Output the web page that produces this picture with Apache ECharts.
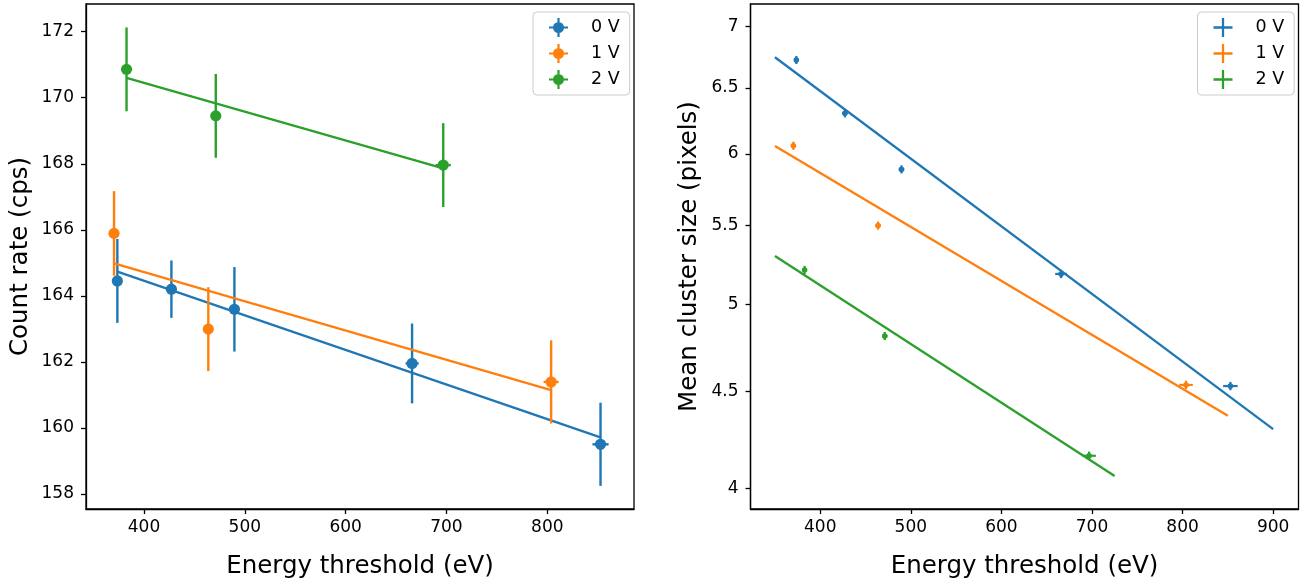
<!DOCTYPE html>
<html>
<head>
<meta charset="utf-8">
<script src="https://cdn.jsdelivr.net/npm/echarts@6.0.0/dist/echarts.min.js"></script>
<style>
html,body{margin:0;padding:0;background:#fff;}
#chart{width:1305px;height:587px;}
</style>
</head>
<body>
<div id="chart"></div>
<script>
// ---------- Data ----------
const seriesNames = ['0 V', '1 V', '2 V'];
const colors = ['#1f77b4', '#ff7f0e', '#2ca02c'];

// Energy thresholds (eV) and their uncertainties
const energy0 = [373.6, 427.2, 489.7, 665.9, 852.8];
const energyErr0 = [2, 3, 3, 6.5, 8];
const energy1 = [370.3, 463.8, 803.8];
const energyErr1 = [2, 3, 7.5];
const energy2 = [382.7, 471.2, 696.8];
const energyErr2 = [2, 3, 7.5];

// Left panel: count rate (cps)
const rate0 = [164.45, 164.20, 163.59, 161.95, 159.50];
const rateErr0 = [1.27, 0.87, 1.28, 1.21, 1.26];
const rate1 = [165.89, 162.99, 161.39];
const rateErr1 = [1.28, 1.27, 1.26];
const rate2 = [170.86, 169.45, 167.96];
const rateErr2 = [1.27, 1.27, 1.27];

// Left panel: linear fits (endpoints)
const rateFitX0 = [373.6, 852.8];
const rateFitY0 = [164.73, 159.71];
const rateFitX1 = [370.3, 803.8];
const rateFitY1 = [164.98, 161.14];
const rateFitX2 = [382.7, 696.8];
const rateFitY2 = [170.60, 167.86];

// Right panel: mean cluster size (pixels)
const size0 = [6.723, 6.302, 5.888, 5.187, 4.528];
const sizeErr0 = [0.033, 0.031, 0.029, 0.026, 0.023];
const size1 = [6.059, 5.500, 4.534];
const sizeErr1 = [0.030, 0.027, 0.023];
const size2 = [5.212, 4.811, 4.161];
const sizeErr2 = [0.026, 0.024, 0.021];

// Right panel: exponential fits (endpoints)
const sizeFitX0 = [350, 900];
const sizeFitY0 = [6.745, 4.298];
const sizeFitX1 = [350, 850];
const sizeFitY1 = [6.058, 4.368];
const sizeFitX2 = [350, 725];
const sizeFitY2 = [5.301, 4.060];

// Tick labels
const rateTicks = [158, 160, 162, 164, 166, 168, 170, 172];
const energyTicksLeft = [400, 500, 600, 700, 800];
const sizeTicks = [4, 4.5, 5, 5.5, 6, 6.5, 7];
const energyTicksRight = [400, 500, 600, 700, 800, 900];

// ---------- Helpers ----------
function zip4(a, b, c, d) { return a.map((v, i) => [v, b[i], c[i], d[i]]); }
function zip2(a, b) { return a.map((v, i) => [v, b[i]]); }

function errRender(radius, lw) {
  return function (params, api) {
    const x = api.value(0), y = api.value(1), xe = api.value(2), ye = api.value(3);
    const c = api.coord([x, y]);
    const t = api.coord([x, y + ye]);
    const b = api.coord([x, y - ye]);
    const l = api.coord([x - xe, y]);
    const r = api.coord([x + xe, y]);
    const color = api.visual('color');
    return {
      type: 'group',
      children: [
        { type: 'line', shape: { x1: t[0], y1: t[1], x2: b[0], y2: b[1] }, style: { stroke: color, lineWidth: lw } },
        { type: 'line', shape: { x1: l[0], y1: l[1], x2: r[0], y2: r[1] }, style: { stroke: color, lineWidth: lw } },
        { type: 'circle', shape: { cx: c[0], cy: c[1], r: radius }, style: { fill: color } }
      ]
    };
  };
}

const FONT = 'DejaVu Sans';
const leftData = [
  { e: energy0, ee: energyErr0, v: rate0, ve: rateErr0, fx: rateFitX0, fy: rateFitY0 },
  { e: energy1, ee: energyErr1, v: rate1, ve: rateErr1, fx: rateFitX1, fy: rateFitY1 },
  { e: energy2, ee: energyErr2, v: rate2, ve: rateErr2, fx: rateFitX2, fy: rateFitY2 }
];
const rightData = [
  { e: energy0, ee: energyErr0, v: size0, ve: sizeErr0, fx: sizeFitX0, fy: sizeFitY0 },
  { e: energy1, ee: energyErr1, v: size1, ve: sizeErr1, fx: sizeFitX1, fy: sizeFitY1 },
  { e: energy2, ee: energyErr2, v: size2, ve: sizeErr2, fx: sizeFitX2, fy: sizeFitY2 }
];

const series = [];
leftData.forEach((d, i) => {
  series.push({
    name: seriesNames[i], type: 'custom', xAxisIndex: 0, yAxisIndex: 0,
    renderItem: errRender(5.6, 2.4), data: zip4(d.e, d.v, d.ee, d.ve),
    encode: { x: 0, y: 1 }, itemStyle: { color: colors[i] }, z: 2 + i
  });
  series.push({
    name: seriesNames[i] + ' fit', type: 'line', xAxisIndex: 0, yAxisIndex: 0,
    data: zip2(d.fx, d.fy), showSymbol: false, symbol: 'none',
    lineStyle: { color: colors[i], width: 2.3 }, z: 2 + i
  });
});
rightData.forEach((d, i) => {
  series.push({
    name: seriesNames[i], type: 'custom', xAxisIndex: 1, yAxisIndex: 1,
    renderItem: errRender(2.8, 2.2), data: zip4(d.e, d.v, d.ee, d.ve),
    encode: { x: 0, y: 1 }, itemStyle: { color: colors[i] }, z: 2 + i
  });
  series.push({
    name: seriesNames[i] + ' exp', type: 'line', xAxisIndex: 1, yAxisIndex: 1,
    data: zip2(d.fx, d.fy), showSymbol: false, symbol: 'none',
    lineStyle: { color: colors[i], width: 2.3 }, z: 2 + i
  });
});

const iconDot = 'path://M0,-1.1A1.1,1.1,0,1,1,0,1.1A1.1,1.1,0,1,1,0,-1.1Z M-0.22,-1.9H0.22V1.9H-0.22Z M-1.9,-0.22H1.9V0.22H-1.9Z';
const iconPlus = 'path://M-0.12,-1H0.12V1H-0.12Z M-1,-0.12H1V0.12H-1Z';

function makeLegend(left, icon) {
  return {
    orient: 'vertical', left: left, top: 12,
    padding: [6, 10, 6, 16], itemWidth: 19, itemHeight: 19, itemGap: 7,
    backgroundColor: 'rgba(255,255,255,0.8)', borderColor: '#cccccc', borderWidth: 1, borderRadius: 4,
    selectedMode: false,
    textStyle: { fontFamily: FONT, fontSize: 17.5, color: '#000', padding: [0, 0, 0, 18] },
    data: seriesNames.map((n, i) => ({ name: n, icon: icon, itemStyle: { color: colors[i] } }))
  };
}

function valueAxisBase() {
  return {
    axisLine: { show: true, onZero: false, lineStyle: { color: '#000', width: 1.3 } },
    axisTick: { show: true, length: 5, lineStyle: { color: '#000', width: 1.3 } },
    axisLabel: { color: '#000', fontFamily: FONT, fontSize: 17 },
    splitLine: { show: false },
    nameTextStyle: { color: '#000', fontFamily: FONT, fontSize: 24.5 },
    nameLocation: 'middle'
  };
}

const xAxisLeft = Object.assign(valueAxisBase(), {
  type: 'value', gridIndex: 0, min: 342.5, max: 886,
  name: 'Energy threshold (eV)', nameGap: 45
});
xAxisLeft.axisLabel = Object.assign({}, xAxisLeft.axisLabel, { margin: 10, customValues: energyTicksLeft });
xAxisLeft.axisTick = Object.assign({}, xAxisLeft.axisTick, { customValues: energyTicksLeft });

const xAxisRight = Object.assign(valueAxisBase(), {
  type: 'value', gridIndex: 1, min: 323, max: 928,
  name: 'Energy threshold (eV)', nameGap: 45
});
xAxisRight.axisLabel = Object.assign({}, xAxisRight.axisLabel, { margin: 10, customValues: energyTicksRight });
xAxisRight.axisTick = Object.assign({}, xAxisRight.axisTick, { customValues: energyTicksRight });

const yAxisLeft = Object.assign(valueAxisBase(), {
  type: 'value', gridIndex: 0, min: 157.54, max: 172.84,
  name: 'Count rate (cps)', nameGap: 53
});
yAxisLeft.axisLabel = Object.assign({}, yAxisLeft.axisLabel, { margin: 12, customValues: rateTicks });
yAxisLeft.axisTick = Object.assign({}, yAxisLeft.axisTick, { customValues: rateTicks });

const yAxisRight = Object.assign(valueAxisBase(), {
  type: 'log', gridIndex: 1, min: 3.901, max: 7.195, logBase: 10,
  name: 'Mean cluster size (pixels)', nameGap: 48
});
yAxisRight.axisLabel = Object.assign({}, yAxisRight.axisLabel, { margin: 12, customValues: sizeTicks, formatter: v => String(+(+v).toFixed(2)) });
yAxisRight.axisTick = Object.assign({}, yAxisRight.axisTick, { customValues: sizeTicks });
yAxisRight.minorTick = { show: false };

const option = {
  animation: false,
  backgroundColor: '#ffffff',
  grid: [
    { left: 86, right: 671, top: 4, bottom: 78, show: true, borderColor: '#000', borderWidth: 1.3, containLabel: false },
    { left: 750.5, right: 6.5, top: 4, bottom: 78, show: true, borderColor: '#000', borderWidth: 1.3, containLabel: false }
  ],
  legend: [makeLegend(533, iconDot), makeLegend(1197.5, iconPlus)],
  xAxis: [xAxisLeft, xAxisRight],
  yAxis: [yAxisLeft, yAxisRight],
  series: series
};

const chart = echarts.init(document.getElementById('chart'), null, { renderer: 'canvas' });
chart.setOption(option);
</script>
</body>
</html>
